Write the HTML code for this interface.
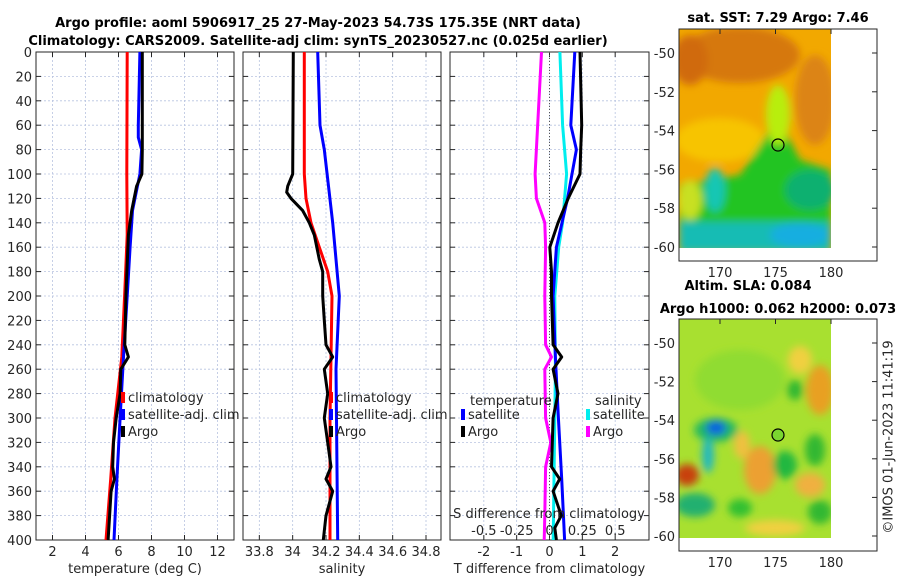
<!DOCTYPE html>
<html><head><meta charset="utf-8">
<style>
html,body{margin:0;padding:0;background:#fff;}
svg{display:block;font-family:"DejaVu Sans","Liberation Sans",sans-serif;}
.tk{font-size:13px;fill:#262626;}
.tt{font-size:13px;font-weight:bold;fill:#000;}
</style></head>
<body>
<svg id="chart" width="900" height="580" viewBox="0 0 900 580">
<defs>
<filter id="bl" x="-20%" y="-20%" width="140%" height="140%"><feGaussianBlur stdDeviation="4"/></filter>
<clipPath id="c1"><rect x="679" y="29" width="152" height="219"/></clipPath>
<clipPath id="c2"><rect x="679" y="319" width="152" height="219"/></clipPath>
</defs>
<text class="tt" x="318" y="27" text-anchor="middle">Argo profile: aoml 5906917_25 27-May-2023 54.73S 175.35E (NRT data)</text>
<text class="tt" x="318" y="45" text-anchor="middle">Climatology: CARS2009. Satellite-adj clim: synTS_20230527.nc (0.025d earlier)</text>

<!-- SST map -->
<g>
<text class="tt" x="778" y="22" text-anchor="middle">sat. SST: 7.29 Argo: 7.46</text>
<g clip-path="url(#c1)">
<rect x="679" y="29" width="152" height="219" fill="#f2a800"/>
<g filter="url(#bl)">
<ellipse cx="740" cy="55" rx="60" ry="28" fill="#d6780c"/>
<ellipse cx="690" cy="60" rx="18" ry="25" fill="#d06a10"/>
<ellipse cx="815" cy="100" rx="20" ry="45" fill="#dc8414"/>
<ellipse cx="720" cy="140" rx="45" ry="22" fill="#f7c400"/>
<polygon points="679,185 740,175 778,118 800,160 831,170 831,248 679,248" fill="#22c422"/>
<ellipse cx="778" cy="115" rx="12" ry="30" fill="#b8ee10"/>
<ellipse cx="690" cy="200" rx="12" ry="20" fill="#c8e020"/>
<ellipse cx="715" cy="190" rx="10" ry="22" fill="#14c6b4"/>
<rect x="679" y="222" width="152" height="30" fill="#14bcb4"/>
<ellipse cx="800" cy="235" rx="30" ry="12" fill="#12aee0"/>
<ellipse cx="810" cy="190" rx="25" ry="20" fill="#10b070"/>
</g>
</g>
<rect x="679" y="29" width="198" height="232" fill="none" stroke="#262626" stroke-width="1"/>
<circle cx="778" cy="145" r="6" fill="none" stroke="#000" stroke-width="1.2"/>
</g>

<!-- SLA map -->
<g>
<text class="tt" x="748" y="290" text-anchor="middle">Altim. SLA: 0.084</text>
<text class="tt" x="778" y="313" text-anchor="middle">Argo h1000: 0.062 h2000: 0.073</text>
<g clip-path="url(#c2)">
<rect x="679" y="319" width="152" height="219" fill="#a8e030"/>
<g filter="url(#bl)">
<ellipse cx="740" cy="380" rx="45" ry="30" fill="#90dc30"/>
<ellipse cx="820" cy="390" rx="14" ry="25" fill="#e8a020"/>
<ellipse cx="800" cy="360" rx="12" ry="14" fill="#f0d040"/>
<ellipse cx="795" cy="390" rx="8" ry="10" fill="#30b830"/>
<ellipse cx="760" cy="470" rx="16" ry="24" fill="#eca030"/>
<ellipse cx="742" cy="445" rx="8" ry="14" fill="#f0c040"/>
<ellipse cx="716" cy="430" rx="22" ry="12" fill="#20b860"/>
<ellipse cx="716" cy="428" rx="10" ry="7" fill="#1060e0"/>
<ellipse cx="708" cy="455" rx="6" ry="18" fill="#20b8c0"/>
<ellipse cx="687" cy="475" rx="12" ry="11" fill="#c84010"/>
<ellipse cx="695" cy="505" rx="20" ry="12" fill="#20b070"/>
<ellipse cx="740" cy="508" rx="12" ry="9" fill="#30c030"/>
<ellipse cx="785" cy="465" rx="12" ry="14" fill="#20b840"/>
<ellipse cx="815" cy="450" rx="10" ry="16" fill="#30b830"/>
<ellipse cx="810" cy="485" rx="15" ry="12" fill="#f0b040"/>
<ellipse cx="820" cy="512" rx="12" ry="12" fill="#30b830"/>
<ellipse cx="775" cy="528" rx="30" ry="8" fill="#f0d040"/>
</g>
</g>
<rect x="679" y="319" width="198" height="232" fill="none" stroke="#262626" stroke-width="1"/>
<circle cx="778" cy="435" r="6" fill="#7ad630" stroke="#000" stroke-width="1.2"/>
<text class="tk" x="889" y="437" text-anchor="middle" transform="rotate(-90 889 437)" dominant-baseline="middle">©IMOS 01-Jun-2023 11:41:19</text>
</g>
</svg>
<script>
const depths=[0,20,40,60,80,100,120,140,160,180,200,220,240,260,280,300,320,340,360,380,400];
// Temperature panel (deg C)
const tClimD=[0,100,150,200,250,300,350,400];
const tClim=[6.53,6.5,6.53,6.37,6.2,5.79,5.53,5.24];
const tSatD=[0,60,70,80,100,130,160,200,250,300,350,400];
const tSat=[7.3,7.2,7.2,7.4,7.3,6.85,6.7,6.53,6.3,6.1,5.9,5.73];
const tArgoD=[0,80,100,110,130,150,200,240,250,260,280,300,320,340,350,360,380,400];
const tArgo=[7.44,7.44,7.42,7.1,6.8,6.6,6.45,6.38,6.6,6.14,6.1,5.86,5.7,5.65,5.75,5.55,5.46,5.37];
// Salinity panel
const sClimD=[0,100,120,140,160,180,200,250,300,400];
const sClim=[34.07,34.07,34.08,34.11,34.16,34.21,34.236,34.23,34.224,34.224];
const sSatD=[0,60,80,140,200,260,400];
const sSat=[34.15,34.164,34.19,34.24,34.28,34.26,34.27];
const sArgoD=[0,100,110,115,120,130,140,150,170,180,200,220,240,250,260,280,300,320,340,350,360,380,400];
const sArgo=[34.004,34.0,33.97,33.964,33.99,34.06,34.1,34.13,34.16,34.18,34.18,34.19,34.2,34.24,34.19,34.21,34.19,34.21,34.23,34.2,34.24,34.2,34.184];
// Difference panel
const dTSatD=[0,60,80,120,160,200,250,300,350,400];
const dTSat=[0.77,0.65,0.82,0.55,0.21,0.11,0.18,0.27,0.37,0.46];
const dTArgoD=[0,60,80,100,120,140,160,180,200,240,250,260,280,300,340,350,360,380,390,400];
const dTArgo=[0.93,0.98,0.95,0.93,0.57,0.26,0.01,0.06,0.06,0.11,0.37,0.11,0.26,0.11,0.06,0.31,0.11,0.36,0.16,0.21];
const dSSatD=[0,60,100,140,160,200,260,300,400];
const dSSat=[0.079,0.1,0.13,0.1,0.07,0.04,0.045,0.04,0.028];
const dSArgoD=[0,100,120,140,160,200,240,250,260,300,320,340,380,400];
const dSArgo=[-0.061,-0.11,-0.1,-0.036,-0.03,-0.036,-0.03,0.015,-0.036,-0.03,0.01,-0.03,-0.036,-0.04];
const tTicks=[2,4,6,8,10,12];
const sTicks=["33.8","34","34.2","34.4","34.6","34.8"];
const dTicks=[-2,-1,0,1,2];
const dsTicks=["-0.5","-0.25","0","0.25","0.5"];
const depthTicks=[0,20,40,60,80,100,120,140,160,180,200,220,240,260,280,300,320,340,360,380,400];
const latTicks=[-50,-52,-54,-56,-58,-60];
const lonTicks=[170,175,180];

const NS="http://www.w3.org/2000/svg";
const svg=document.getElementById('chart');
function mk(tag,attrs,parent){const e=document.createElementNS(NS,tag);for(const k in attrs)e.setAttribute(k,attrs[k]);(parent||svg).appendChild(e);return e;}
const Y0=52,Y1=540;
const yD=d=>Y0+(d/400)*(Y1-Y0);
function panel(name,x0,x1,dmin,dmax,ticks,tickLab,xlabel,showY){
  const g=mk('g',{});
  
  
  const xf=v=>x0+(v-dmin)/(dmax-dmin)*(x1-x0);
  depthTicks.forEach(d=>{const l=mk('line',{x1:x0,x2:x1,y1:yD(d),y2:yD(d),stroke:'#b8c4e0','stroke-width':0.8,'stroke-dasharray':'2,2'},g);
    mk('line',{x1:x0,x2:x0+5,y1:yD(d),y2:yD(d),stroke:'#262626'},g);mk('line',{x1:x1-5,x2:x1,y1:yD(d),y2:yD(d),stroke:'#262626'},g);
    if(showY){const t=mk('text',{class:'tk',x:x0-4,y:yD(d)+5,'text-anchor':'end'},g);t.textContent=d;}});
  ticks.forEach((v,i)=>{const X=xf(+v);const l=mk('line',{x1:X,x2:X,y1:Y0,y2:Y1,stroke:'#b8c4e0','stroke-width':0.8,'stroke-dasharray':'2,2'},g);
    mk('line',{x1:X,x2:X,y1:Y1,y2:Y1-5,stroke:'#262626'},g);mk('line',{x1:X,x2:X,y1:Y0,y2:Y0+5,stroke:'#262626'},g);
    const t=mk('text',{class:'tk',x:X,y:556,'text-anchor':'middle'},g);t.textContent=tickLab[i];});
  mk('rect',{x:x0,y:Y0,width:x1-x0,height:Y1-Y0,fill:'none',stroke:'#262626','stroke-width':1},g);
  const t=mk('text',{class:'tk',x:(x0+x1)/2,y:573,'text-anchor':'middle'},g);t.textContent=xlabel;
  return {g,xf};
}
function line(p,ds,vs,color,name){
  const pts=ds.map((d,i)=>p.xf(vs[i]).toFixed(1)+','+yD(d).toFixed(1)).join(' ');
  const l=mk('polyline',{points:pts,fill:'none',stroke:color,'stroke-width':3,'stroke-linejoin':'round'},p.g);
  
  
}
function legend(g,x,y,color,label,name){
  const m=mk('rect',{x:x-2,y:y-9,width:4,height:11,fill:color},g);
  
  const t=mk('text',{class:'tk',x:x+5,y:y+1},g);t.textContent=label;
  
}
const p1=panel('temperature-panel',36,234,1,13,tTicks,tTicks,'temperature (deg C)',true);
line(p1,tClimD,tClim,'#ff0000','temperature-climatology-line');
line(p1,tSatD,tSat,'#0000ff','temperature-satellite-line');
line(p1,tArgoD,tArgo,'#000000','temperature-argo-line');
legend(p1.g,123,401,'#ff0000','climatology','legend-climatology');
legend(p1.g,123,418,'#0000ff','satellite-adj. clim','legend-satellite');
legend(p1.g,123,435,'#000000','Argo','legend-argo');
const p2=panel('salinity-panel',243,441,33.702,34.89,sTicks,sTicks,'salinity',false);
line(p2,sClimD,sClim,'#ff0000','salinity-climatology-line');
line(p2,sSatD,sSat,'#0000ff','salinity-satellite-line');
line(p2,sArgoD,sArgo,'#000000','salinity-argo-line');
legend(p2.g,331,401,'#ff0000','climatology','legend-climatology');
legend(p2.g,331,418,'#0000ff','satellite-adj. clim','legend-satellite');
legend(p2.g,331,435,'#000000','Argo','legend-argo');
const p3=panel('difference-panel',450,649,-3.03,3.03,dTicks,dTicks,'T difference from climatology',false);
const zl=mk('line',{x1:p3.xf(0),x2:p3.xf(0),y1:Y0,y2:Y1,stroke:'#555','stroke-width':1,'stroke-dasharray':'1,2'},p3.g);

const sX=v=>v*4;
line(p3,dSArgoD,dSArgo.map(sX),'#ff00ff','salinity-diff-argo-line');
line(p3,dSSatD,dSSat.map(sX),'#00eeee','salinity-diff-satellite-line');
line(p3,dTSatD,dTSat,'#0000ff','temperature-diff-satellite-line');
line(p3,dTArgoD,dTArgo,'#000000','temperature-diff-argo-line');
const st=mk('text',{class:'tk',x:549,y:518,'text-anchor':'middle'},p3.g);st.textContent='S difference from climatology';

dsTicks.forEach(v=>{const t=mk('text',{class:'tk',x:p3.xf(+v*4),y:535,'text-anchor':'middle'},p3.g);t.textContent=v;
});
const lt=mk('text',{class:'tk',x:470,y:405},p3.g);lt.textContent='temperature';
const ls=mk('text',{class:'tk',x:595,y:405},p3.g);ls.textContent='salinity';
legend(p3.g,463,418,'#0000ff','satellite','legend-t-satellite');
legend(p3.g,463,435,'#000000','Argo','legend-t-argo');
legend(p3.g,588,418,'#00eeee','satellite','legend-s-satellite');
legend(p3.g,588,435,'#ff00ff','Argo','legend-s-argo');
function mapAxes(top,latTop,latBot){
  const lonX=v=>720+(v-170)*11.1;
  const latY=v=>latTop+(v+50)/(-10)*(latBot-latTop);
  latTicks.forEach(v=>{const Y=latY(v);mk('line',{x1:877,x2:872,y1:Y,y2:Y,stroke:'#262626'});
    const t=mk('text',{class:'tk',x:675,y:Y+5,'text-anchor':'end'});t.textContent=v;});
  lonTicks.forEach(v=>{const X=lonX(v);mk('line',{x1:X,x2:X,y1:top,y2:top+5,stroke:'#262626'});
    const t=mk('text',{class:'tk',x:X,y:top+232+16,'text-anchor':'middle'});t.textContent=v;});
}
mapAxes(29,53,247);
mapAxes(319,343,536);
</script>
</body></html>
